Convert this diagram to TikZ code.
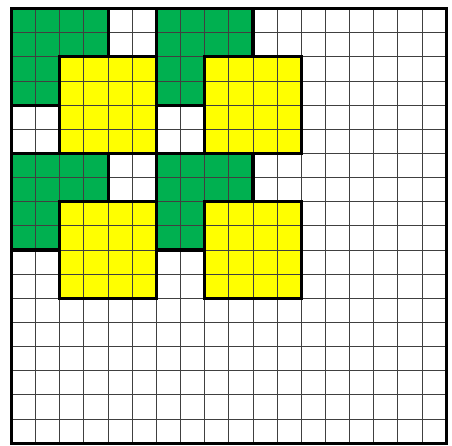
\documentclass[tikz,border=0pt]{standalone}
\definecolor{cgreen}{HTML}{00B050}
\definecolor{cyellow}{HTML}{FFFF00}
\tikzset{
  greenfill/.style={fill=cgreen},
  yellowfill/.style={fill=cyellow},
  gridline/.style={draw=black!75, line width=0.45pt},
  edgefill/.style={fill=black},
}
\newcommand{\myhedge}[3]{\fill[edgefill] (#1-0.065,#3-0.065) rectangle (#2+0.065,#3+0.065);}
\newcommand{\myvedge}[3]{\fill[edgefill] (#3-0.065,#1-0.065) rectangle (#3+0.065,#2+0.065);}
\begin{document}
\begin{tikzpicture}
\useasboundingbox (0,0) rectangle (226pt,223pt);
\fill[white] (0,0) rectangle (226pt,223pt);
\begin{scope}[shift={(5.75pt,218.75pt)}, x=12.075pt, y=-12.075pt]
  \foreach \px/\py in {0/0,6/0,0/6,6/6}{
    \fill[greenfill] (\px,\py) -- (\px+4,\py) -- (\px+4,\py+2) -- (\px+2,\py+2) -- (\px+2,\py+4) -- (\px,\py+4) -- cycle;
    \fill[yellowfill] (\px+2,\py+2) rectangle (\px+6,\py+6);
  }
  % grid
  \foreach \i in {1,...,17}{
    \draw[gridline] (\i,0) -- (\i,18);
    \draw[gridline] (0,\i) -- (18,\i);
  }
  % bold outlines as filled bars
  \foreach \px/\py in {0/0,6/0,0/6,6/6}{
    \myhedge{\px}{\px+4}{\py}
    \myvedge{\py}{\py+2}{\px+4}
    \myhedge{\px+2}{\px+4}{\py+2}
    \myvedge{\py+2}{\py+4}{\px+2}
    \myhedge{\px}{\px+2}{\py+4}
    \myvedge{\py}{\py+4}{\px}
    \myhedge{\px+2}{\px+6}{\py+2}
    \myhedge{\px+2}{\px+6}{\py+6}
    \myvedge{\py+2}{\py+6}{\px+2}
    \myvedge{\py+2}{\py+6}{\px+6}
  }
  % outer border
  \myhedge{0}{18}{0}
  \myhedge{0}{18}{18}
  \myvedge{0}{18}{0}
  \myvedge{0}{18}{18}
\end{scope}
\end{tikzpicture}
\end{document}
